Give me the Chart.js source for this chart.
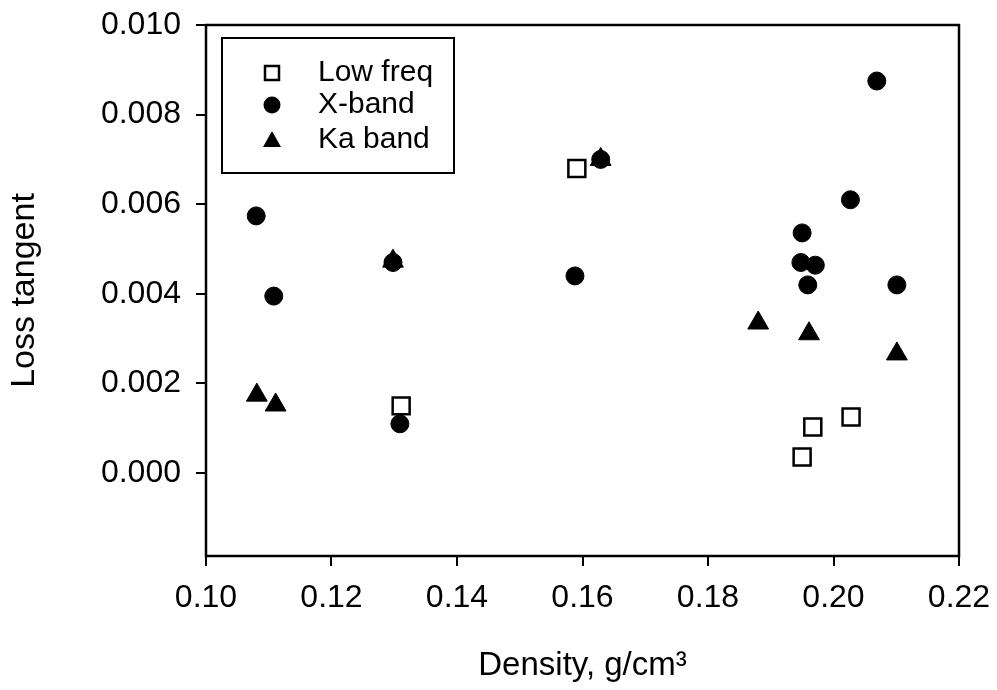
<!DOCTYPE html>
<html>
<head>
<meta charset="utf-8">
<script src="https://cdn.jsdelivr.net/npm/chart.js@4.4.1/dist/chart.umd.min.js"></script>
<style>
  body { margin: 0; background: #fff; }
</style>
</head>
<body>
<canvas id="lossChart" width="997" height="690"></canvas>
<script>
// Loss tangent vs density
const lowFreqX = [0.1591, 0.1311, 0.1950, 0.1967, 0.2028];
const lowFreqY = [0.0068, 0.0015, 0.00036, 0.00103, 0.00125];

const xBandX = [0.1080, 0.1108, 0.1298, 0.1309, 0.1588, 0.1629, 0.2069, 0.2027, 0.1950, 0.1948, 0.1971, 0.1959, 0.2101];
const xBandY = [0.00574, 0.00395, 0.0047, 0.0011, 0.0044, 0.0070, 0.00875, 0.0061, 0.00536, 0.0047, 0.00464, 0.0042, 0.0042];

const kaBandX = [0.1081, 0.1111, 0.1298, 0.1629, 0.1880, 0.1961, 0.2101];
const kaBandY = [0.00174, 0.00152, 0.00473, 0.0070, 0.00335, 0.00311, 0.00266];

const xTicks = [0.10, 0.12, 0.14, 0.16, 0.18, 0.20, 0.22];
const yTicks = [0.000, 0.002, 0.004, 0.006, 0.008, 0.010];

const seriesNames = ['Low freq', 'X-band', 'Ka band'];

const toPoints = (xs, ys) => xs.map((x, i) => ({ x: x, y: ys[i] }));

const fontFamily = "'Liberation Sans', Arial, sans-serif";

// box round the plot + the inset legend
const frameAndLegend = {
    id: 'frameAndLegend',
    afterDraw(chart) {
        const ctx = chart.ctx;
        const a = chart.chartArea;
        ctx.save();
        ctx.strokeStyle = '#000';
        ctx.lineWidth = 2.5;
        ctx.strokeRect(a.left, a.top, a.right - a.left, a.bottom - a.top);

        // legend box
        const bx = a.left + 16, by = a.top + 13, bw = 232, bh = 135;
        ctx.lineWidth = 2;
        ctx.strokeRect(bx, by, bw, bh);

        const symX = bx + 50, textX = bx + 96;
        const rows = [by + 35, by + 67, by + 102];
        ctx.fillStyle = '#000';
        ctx.font = '30px ' + fontFamily;
        ctx.textBaseline = 'middle';
        ctx.textAlign = 'left';

        // open square
        ctx.lineWidth = 2.5;
        ctx.strokeRect(symX - 7, rows[0] - 7, 14, 14);
        // filled circle
        ctx.beginPath();
        ctx.arc(symX, rows[1], 8.5, 0, Math.PI * 2);
        ctx.fill();
        // filled triangle
        ctx.beginPath();
        ctx.moveTo(symX, rows[2] - 9);
        ctx.lineTo(symX + 9, rows[2] + 7);
        ctx.lineTo(symX - 9, rows[2] + 7);
        ctx.closePath();
        ctx.fill();

        seriesNames.forEach((name, i) => ctx.fillText(name, textX, rows[i]));
        ctx.restore();
    }
};

new Chart(document.getElementById('lossChart'), {
    type: 'scatter',
    data: {
        datasets: [
            {
                label: seriesNames[0],
                data: toPoints(lowFreqX, lowFreqY),
                pointStyle: 'rect',
                pointRadius: 12,
                backgroundColor: '#fff',
                borderColor: '#000',
                borderWidth: 2.5
            },
            {
                label: seriesNames[2],
                data: toPoints(kaBandX, kaBandY),
                pointStyle: 'triangle',
                pointRadius: 12,
                backgroundColor: '#000',
                borderColor: '#000',
                borderWidth: 1
            },
            {
                label: seriesNames[1],
                data: toPoints(xBandX, xBandY),
                pointStyle: 'circle',
                pointRadius: 9,
                backgroundColor: '#000',
                borderColor: '#000',
                borderWidth: 1
            }
        ]
    },
    options: {
        responsive: false,
        devicePixelRatio: 1,
        animation: false,
        layout: { padding: { top: 25, right: 38, bottom: 0, left: 0 } },
        plugins: {
            legend: { display: false },
            tooltip: { enabled: false }
        },
        scales: {
            x: {
                type: 'linear',
                min: 0.10,
                max: 0.22,
                afterBuildTicks: s => { s.ticks = xTicks.map(v => ({ value: v })); },
                afterFit: s => { s.height = 134; s.paddingLeft = 0; s.paddingRight = 0; },
                border: { display: false },
                grid: { drawOnChartArea: false, drawTicks: true, tickLength: 10, color: '#000', lineWidth: 2 },
                ticks: {
                    color: '#000',
                    padding: 13,
                    maxRotation: 0,
                    font: { family: fontFamily, size: 32 },
                    callback: v => v.toFixed(2)
                },
                title: {
                    display: true,
                    text: 'Density, g/cm³',
                    color: '#000',
                    font: { family: fontFamily, size: 33 },
                    padding: { top: 0, bottom: 4 }
                }
            },
            y: {
                type: 'linear',
                min: -0.00185,
                max: 0.010,
                afterBuildTicks: s => { s.ticks = yTicks.map(v => ({ value: v })); },
                afterFit: s => { s.width = 206; s.paddingTop = 0; s.paddingBottom = 0; },
                border: { display: false },
                grid: { drawOnChartArea: false, drawTicks: true, tickLength: 10, color: '#000', lineWidth: 2 },
                ticks: {
                    color: '#000',
                    padding: 15,
                    font: { family: fontFamily, size: 32 },
                    callback: v => v.toFixed(3)
                },
                title: {
                    display: true,
                    text: 'Loss tangent',
                    color: '#000',
                    font: { family: fontFamily, size: 34 },
                    padding: { top: 4, bottom: 0 }
                }
            }
        }
    },
    plugins: [frameAndLegend]
});
</script>
</body>
</html>
